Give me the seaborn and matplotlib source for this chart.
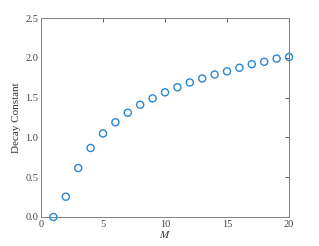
import matplotlib.pyplot as plt
import numpy as np
import pandas as pd
import seaborn as sns

# Data
m_values = list(range(1, 21))
decay = [0.0, 0.255, 0.615, 0.867, 1.05, 1.19, 1.31, 1.41, 1.49, 1.566,
         1.63, 1.69, 1.74, 1.79, 1.83, 1.875, 1.92, 1.95, 1.99, 2.01]
x_ticks = [0, 5, 10, 15, 20]
y_ticks = [0.0, 0.5, 1.0, 1.5, 2.0, 2.5]


def main():
    sns.set_style("white")
    plt.rcParams["font.family"] = ["Liberation Serif", "DejaVu Serif"]
    plt.rcParams["mathtext.fontset"] = "stix"

    df = pd.DataFrame({"M": m_values, "decay": decay})

    fig = plt.figure(figsize=(3.19, 2.46), dpi=100)
    ax = fig.add_axes([0.1285, 0.1179, 0.7775, 0.8089])

    sns.scatterplot(data=df, x="M", y="decay", ax=ax, marker="o",
                    facecolors="none", edgecolor="#2a86d1", linewidth=1.0,
                    s=26, zorder=3, clip_on=False)

    ax.set_xlim(0, 20)
    ax.set_ylim(0, 2.5)
    ax.set_xticks(x_ticks)
    ax.set_yticks(y_ticks)
    ax.set_yticklabels(["{:.1f}".format(v) for v in y_ticks])
    ax.set_xlabel("$M$", fontsize=8, labelpad=0, color="#333333")
    ax.set_ylabel("Decay Constant", fontsize=8, labelpad=3, color="#333333")

    ax.tick_params(direction="in", length=3, width=0.6, colors="#444444",
                   labelsize=7.5, top=True, right=True, pad=2)
    for sp in ax.spines.values():
        sp.set_color("#808080")
        sp.set_linewidth(0.7)

    fig.savefig("out.png", dpi=100)


if __name__ == "__main__":
    main()
